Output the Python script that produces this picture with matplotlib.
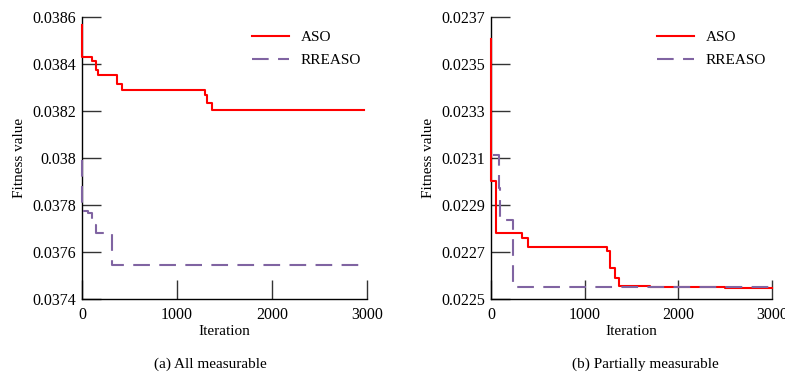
import matplotlib
matplotlib.use('Agg')
import matplotlib.pyplot as plt
from matplotlib.ticker import FuncFormatter

plt.rcParams['font.family'] = ['Liberation Serif', 'DejaVu Serif']

# (a) all measurable -- step-wise best fitness per iteration
aso_a_x = [0, 0, 100, 147, 171, 371, 416, 1290, 1315, 1371, 2970]
aso_a_y = [0.038567, 0.038430, 0.038411, 0.038373, 0.038354, 0.038316,
           0.038290, 0.038269, 0.038233, 0.038205, 0.038205]
rre_a_x = [0, 0, 63, 105, 148, 313, 2950]
rre_a_y = [0.03799, 0.037775, 0.037765, 0.037715, 0.037681, 0.037545, 0.037545]

# (b) partially measurable
aso_b_x = [0, 0, 57, 331, 391, 1238, 1274, 1320, 1363, 1700, 2000, 2500, 3000]
aso_b_y = [0.023606, 0.023004, 0.022780, 0.022758, 0.022723, 0.022706,
           0.022630, 0.022591, 0.022555, 0.022552, 0.022549, 0.022545, 0.022545]
rre_b_x = [25, 82, 100, 235, 3000]
rre_b_y = [0.023113, 0.022974, 0.022836, 0.022552, 0.022552]

yticks_a = [0.0374, 0.0376, 0.0378, 0.038, 0.0382, 0.0384, 0.0386]
yticks_b = [0.0225, 0.0227, 0.0229, 0.0231, 0.0233, 0.0235, 0.0237]
xticks = [0, 1000, 2000, 3000]

red = '#ff0000'
purple = '#8064a2'

fig = plt.figure(figsize=(7.85, 3.72), dpi=100)
ax1 = fig.add_axes([82/785, 73/372, 285/785, 282/372])
ax2 = fig.add_axes([491/785, 73/372, 281/785, 282/372])


def style(ax, yt, cap, cap_x):
    ax.set_xlim(0, 3000)
    ax.set_ylim(yt[0], yt[-1])
    ax.set_xticks(xticks)
    ax.set_yticks(yt)
    ax.yaxis.set_major_formatter(FuncFormatter(lambda v, p: '%g' % round(v, 6)))
    ax.spines['top'].set_visible(False)
    ax.spines['right'].set_visible(False)
    for s in ['left', 'bottom']:
        ax.spines[s].set_linewidth(1.0)
    ax.tick_params(direction='in', length=14, width=1.0, color='#333333',
                   labelsize=11.5)
    ax.tick_params(axis='x', pad=6)
    ax.tick_params(axis='y', pad=4)
    ax.set_xlabel('Iteration', fontsize=11, labelpad=1)
    ax.set_ylabel('Fitness value', fontsize=11, labelpad=5)
    ax.legend(loc='upper right', frameon=False, fontsize=11,
              handlelength=2.4, handletextpad=0.75, labelspacing=0.65,
              borderaxespad=0.0, bbox_to_anchor=(1.0, 0.975))
    fig.text(cap_x, 1 - 364/372, cap, ha='center', va='center', fontsize=11)


ax1.step(aso_a_x, aso_a_y, where='post', color=red, lw=1.5, label='ASO',
         clip_on=False, zorder=3)
ax1.step(rre_a_x, rre_a_y, where='post', color=purple, lw=1.5,
         dashes=(8, 4.5), label='RREASO', clip_on=False, zorder=3)
style(ax1, yticks_a, '(a) All measurable', 210/785)

ax2.step(aso_b_x, aso_b_y, where='post', color=red, lw=1.5, label='ASO',
         clip_on=False, zorder=3)
ax2.step(rre_b_x, rre_b_y, where='post', color=purple, lw=1.5,
         dashes=(8, 4.5), label='RREASO', clip_on=False, zorder=3)
style(ax2, yticks_b, '(b) Partially measurable', 645/785)

fig.savefig('out.png', dpi=100)
